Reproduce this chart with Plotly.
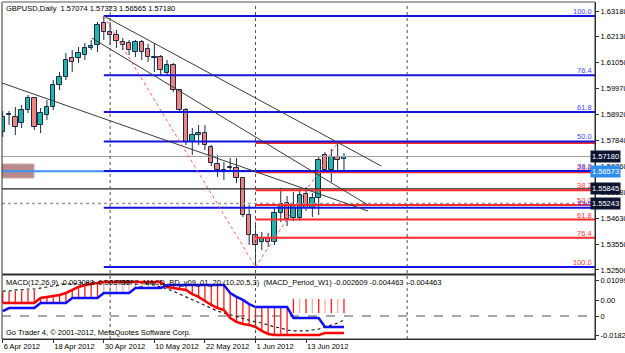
import plotly.graph_objects as go

# ---------------- data ----------------
date_labels = ["6 Apr 2012", "18 Apr 2012", "30 Apr 2012", "10 May 2012",
               "22 May 2012", "1 Jun 2012", "13 Jun 2012"]
date_pos = [0, 8, 16, 24, 32, 40, 48]

opens = [1.58190, 1.58912, 1.58809, 1.58562, 1.59098, 1.59593, 1.58479, 1.58891, 1.59221, 1.60129,
         1.60459, 1.61242, 1.61242, 1.61366, 1.61655, 1.61778, 1.62685, 1.62314, 1.62191, 1.61902,
         1.61861, 1.61490, 1.61902, 1.61613, 1.61283, 1.61283, 1.60624, 1.60953, 1.59922, 1.59098,
         1.57778, 1.58067, 1.58149, 1.57572, 1.56871, 1.56623, 1.56706, 1.56706, 1.56293, 1.54767,
         1.53943, 1.53654, 1.53819, 1.53654, 1.54850, 1.55262, 1.54644, 1.54644, 1.55633, 1.55056,
         1.55468, 1.57242, 1.56623, 1.57159, 1.57074]
highs = [1.59056, 1.59056, 1.59221, 1.59304, 1.59716, 1.59634, 1.59180, 1.59510, 1.60335, 1.60665,
         1.61448, 1.61572, 1.61696, 1.61861, 1.61984, 1.62727, 1.62974, 1.62727, 1.62397, 1.62067,
         1.61984, 1.61984, 1.61984, 1.61819, 1.61861, 1.61366, 1.61160, 1.61036, 1.59964, 1.59180,
         1.58355, 1.58479, 1.58479, 1.57654, 1.57242, 1.56953, 1.57118, 1.57118, 1.56335, 1.55180,
         1.54355, 1.54066, 1.54025, 1.55097, 1.55881, 1.55551, 1.55716, 1.55798, 1.55922, 1.55675,
         1.57159, 1.57366, 1.57489, 1.57737, 1.57323]
lows = [1.57984, 1.58479, 1.58067, 1.58355, 1.58974, 1.58273, 1.58149, 1.58685, 1.59098, 1.59922,
        1.60335, 1.60665, 1.61036, 1.61160, 1.61572, 1.61490, 1.61984, 1.61778, 1.61655, 1.61572,
        1.61366, 1.61283, 1.61160, 1.61077, 1.60665, 1.60541, 1.60500, 1.59840, 1.59015, 1.57654,
        1.57242, 1.57654, 1.57448, 1.56788, 1.56335, 1.56211, 1.56541, 1.56087, 1.54685, 1.53530,
        1.52624, 1.53324, 1.53448, 1.53530, 1.54479, 1.54314, 1.54520, 1.54520, 1.54932, 1.54685,
        1.54767, 1.56500, 1.56128, 1.56500, 1.56565]
closes = [1.58809, 1.58941, 1.58397, 1.59098, 1.59593, 1.58397, 1.58974, 1.59221, 1.60129, 1.60459,
          1.61160, 1.61077, 1.61448, 1.61655, 1.61737, 1.62603, 1.62314, 1.62191, 1.61943, 1.61778,
          1.61572, 1.61902, 1.61490, 1.61283, 1.61263, 1.60747, 1.60953, 1.59922, 1.59098, 1.57778,
          1.58067, 1.58149, 1.57654, 1.56912, 1.56623, 1.56603, 1.56747, 1.56293, 1.54767, 1.53943,
          1.53530, 1.53819, 1.53654, 1.54850, 1.55221, 1.54602, 1.55180, 1.55592, 1.55056, 1.55468,
          1.57036, 1.56623, 1.57159, 1.57036, 1.57180]

macd_red = [-0.0012, -0.0012, -0.0012, -0.0012, -0.0012, -0.0012, 0.0014, 0.0020, 0.0025, 0.0030,
            0.0041, 0.0057, 0.0073, 0.0083, 0.0089, 0.0094, 0.0099, 0.0099, 0.0099, 0.0099,
            0.0099, 0.0099, 0.0099, 0.0099, 0.0099, 0.0099, 0.0073, 0.0067, 0.0062, 0.0057,
            0.0035, 0.0020, -0.0002, -0.0023, -0.0039, -0.0050, -0.0092, -0.0113, -0.0124, -0.0129,
            -0.0140, -0.0161, -0.0177, -0.0183, -0.0183, -0.0183, -0.0183, -0.0183, -0.0183, -0.0183,
            -0.0183, -0.0172, -0.0172, -0.0172, -0.0172]
macd_blue = [-0.0055, -0.0039, -0.0039, -0.0039, -0.0039, -0.0039, -0.0012, -0.0012, -0.0012, -0.0012,
             -0.0012, 0.0014, 0.0014, 0.0014, 0.0014, 0.0014, 0.0041, 0.0041, 0.0041, 0.0041,
             0.0041, 0.0067, 0.0067, 0.0067, 0.0067, 0.0067, 0.0083, 0.0083, 0.0083, 0.0083,
             0.0083, 0.0083, 0.0083, 0.0083, 0.0083, 0.0083, 0.0041, 0.0020, 0.0004, -0.0018,
             -0.0034, -0.0034, -0.0034, -0.0034, -0.0034, -0.0034, -0.0092, -0.0092, -0.0092, -0.0092,
             -0.0092, -0.0140, -0.0140, -0.0140, -0.0140]
macd_dot = [0.0051, 0.0051, 0.0057, 0.0057, 0.0062, 0.0062, 0.0067, 0.0073, 0.0078, 0.0083,
            0.0089, 0.0089, 0.0094, 0.0094, 0.0099, 0.0099, 0.0105, 0.0105, 0.0105, 0.0105,
            0.0099, 0.0099, 0.0094, 0.0089, 0.0083, 0.0073, 0.0062, 0.0051, 0.0035, 0.0020,
            0.0004, -0.0012, -0.0028, -0.0039, -0.0055, -0.0066, -0.0076, -0.0087, -0.0097, -0.0103,
            -0.0113, -0.0119, -0.0129, -0.0140, -0.0145, -0.0156, -0.0161, -0.0161, -0.0161, -0.0156,
            -0.0151, -0.0140, -0.0129, -0.0119, -0.0103]
hist_top = [0.0046, 0.0046, 0.0051, 0.0051, 0.0057, 0.0057, 0.0014, 0.0020, 0.0025, 0.0030,
            0.0041, 0.0057, 0.0073, 0.0083, 0.0089, 0.0094, 0.0099, 0.0099, 0.0099, 0.0099,
            0.0099, 0.0099, 0.0099, 0.0099, 0.0099, 0.0099, 0.0083, 0.0083, 0.0083, 0.0083,
            0.0083, 0.0083, 0.0083, 0.0083, 0.0083, 0.0083, 0.0041, 0.0020, 0.0004, -0.0018,
            -0.0034, -0.0034, -0.0034, -0.0034, -0.0034, -0.0034, 0.0009, 0.0009, 0.0009, 0.0009,
            0.0009, 0.0009, 0.0009, 0.0009, 0.0009]
hist_bot = [-0.0012, -0.0012, -0.0012, -0.0012, -0.0012, -0.0012, -0.0012, -0.0012, -0.0012, -0.0012,
            -0.0012, 0.0014, 0.0014, 0.0014, 0.0014, 0.0014, 0.0041, 0.0041, 0.0041, 0.0041,
            0.0041, 0.0067, 0.0067, 0.0067, 0.0067, 0.0067, 0.0073, 0.0067, 0.0062, 0.0057,
            0.0035, 0.0020, -0.0002, -0.0023, -0.0039, -0.0050, -0.0092, -0.0113, -0.0124, -0.0129,
            -0.0140, -0.0161, -0.0177, -0.0183, -0.0183, -0.0183, -0.0066, -0.0066, -0.0066, -0.0066,
            -0.0066, -0.0066, -0.0066, -0.0066, -0.0066]
hist_kind = "r" * 16 + "p" * 10 + "r" * 20 + "rprprprpr"

price_ticks = [1.63180, 1.62130, 1.61050, 1.59970, 1.58920, 1.57840, 1.56760,
               1.55680, 1.54630, 1.53550, 1.52500]
macd_ticks = [0.010997, 0.0, -0.0082, -0.018273]
macd_tick_text = ["0.010997", "0.00", "0", "-0.018273"]
macd_level = -0.0082

fib_pcts = [0.0, 23.6, 38.2, 50.0, 61.8, 76.4, 100.0]
blue_fib_start, blue_fib_hi, blue_fib_lo = 16, 1.62974, 1.52624
red_fib_start, red_fib_hi, red_fib_lo = 40, 1.57737, 1.52624

bid_price = 1.57180
hlines = [1.56573, 1.55845, 1.55243]
box_prices = [1.57180, 1.56573, 1.55845, 1.55243]
box_colors = ["#0d1630", "#2d8cf0", "#0d1630", "#0d1630"]

trend_lines = [((16.0, 1.62974), (59.9, 1.56788)),
               ((14.1, 1.62067), (57.8, 1.55180)),
               ((-0.1, 1.60211), (57.8, 1.54932))]
zigzag = [(16, 1.62974), (40, 1.52624), (53, 1.57737)]
separators = [17, 40, 64]
rect_box = ((-0.5, 1.56293), (4.95, 1.56871))

header = "GBPUSD,Daily  1.57074 1.57323 1.56565 1.57180"
macd_text1 = "MACD(12,26,9) -0.003088 -0.008730"
macd_text2 = "HTF2_MACD_BD_v09_01_20 (10,20,5,3)  (MACD_Period_W1) -0.002609 -0.004463  -0.004463"
copyright_text = "Go Trader 4, \u00a9 2001-2012, MetaQuotes Software Corp."

# ---------------- geometry / style ----------------
XMIN, XMAX = -0.11, 93.72
FONT = "Liberation Sans, Arial, sans-serif"
FS = 7.5
MAIN_LO = 0.1929
MACD_HI = 0.1899

n = len(opens)
idx = list(range(n))

fig = go.Figure()

# candle wicks
wx, wy = [], []
for i in idx:
    top = max(opens[i], closes[i]); bot = min(opens[i], closes[i])
    wx += [i, i, None, i, i, None]
    wy += [highs[i], top, None, bot, lows[i], None]
fig.add_trace(go.Scatter(x=wx, y=wy, mode="lines", line=dict(color="#1c2a4a", width=1),
                         hoverinfo="skip", xaxis="x", yaxis="y"))
# candle bodies
base = [min(o, c) for o, c in zip(opens, closes)]
height = [max(abs(c - o), 0.00012) for o, c in zip(opens, closes)]
colors = ["#26b2a8" if c >= o else "#f0847c" for o, c in zip(opens, closes)]
fig.add_trace(go.Bar(x=idx, y=height, base=base, width=0.7, marker=dict(color=colors,
                     line=dict(color="#1c2a4a", width=1)), xaxis="x", yaxis="y", hoverinfo="skip"))

# MACD histogram
for kind, col in (("r", "#ff1a1a"), ("p", "#ffa8a8")):
    hx, hy = [], []
    for i in idx:
        if hist_kind[i] == kind:
            hx += [i, i, None]
            hy += [hist_bot[i], hist_top[i], None]
    fig.add_trace(go.Scatter(x=hx, y=hy, mode="lines", line=dict(color=col, width=1.3),
                             xaxis="x2", yaxis="y2", hoverinfo="skip"))
fig.add_trace(go.Scatter(x=idx, y=macd_dot, mode="lines", line=dict(color="#202020", width=1.2, dash="dot"),
                         xaxis="x2", yaxis="y2", hoverinfo="skip"))
fig.add_trace(go.Scatter(x=idx, y=macd_red, mode="lines", line=dict(color="#ff0000", width=2.5),
                         xaxis="x2", yaxis="y2", hoverinfo="skip"))
fig.add_trace(go.Scatter(x=idx, y=macd_blue, mode="lines", line=dict(color="#1010f0", width=2.5),
                         xaxis="x2", yaxis="y2", hoverinfo="skip"))

shapes = []
# rosy rectangle
shapes.append(dict(type="rect", xref="x", yref="y", x0=rect_box[0][0], y0=rect_box[0][1],
                   x1=rect_box[1][0], y1=rect_box[1][1], fillcolor="#b98a8a",
                   line=dict(color="#d0a8a8", width=1), layer="below"))
# full-width horizontal lines
shapes.append(dict(type="line", xref="x", yref="y", x0=XMIN, x1=XMAX, y0=bid_price, y1=bid_price,
                   line=dict(color="#a0a0a0", width=1), layer="above"))
hstyles = [dict(color="#3b95f5", width=2), dict(color="#202020", width=1.3),
           dict(color="#9a9a9a", width=1.5, dash="dot")]
for p, st in zip(hlines, hstyles):
    shapes.append(dict(type="line", xref="x", yref="y", x0=XMIN, x1=XMAX, y0=p, y1=p,
                       line=st, layer="above"))
# red fib
for pct in fib_pcts:
    p = red_fib_hi - pct / 100.0 * (red_fib_hi - red_fib_lo)
    shapes.append(dict(type="line", xref="x", yref="y", x0=red_fib_start, x1=XMAX, y0=p, y1=p,
                       line=dict(color="#ff2a2a", width=2), layer="above"))
# blue fib
for pct in fib_pcts:
    p = blue_fib_lo + pct / 100.0 * (blue_fib_hi - blue_fib_lo)
    shapes.append(dict(type="line", xref="x", yref="y", x0=blue_fib_start, x1=XMAX, y0=p, y1=p,
                       line=dict(color="#1414e0", width=2), layer="above"))
# trend lines
for (a, b) in trend_lines:
    shapes.append(dict(type="line", xref="x", yref="y", x0=a[0], y0=a[1], x1=b[0], y1=b[1],
                       line=dict(color="#3a3a3a", width=1), layer="above"))
# zigzag dotted
for a, b in zip(zigzag[:-1], zigzag[1:]):
    shapes.append(dict(type="line", xref="x", yref="y", x0=a[0], y0=a[1], x1=b[0], y1=b[1],
                       line=dict(color="#ff5a5a", width=1, dash="dot"), layer="above"))
# period separators
for s in separators:
    shapes.append(dict(type="line", xref="x", yref="paper", x0=s, x1=s, y0=0, y1=1,
                       line=dict(color="#505050", width=1, dash="dot"), layer="above"))
# MACD level
shapes.append(dict(type="line", xref="x2", yref="y2", x0=XMIN, x1=XMAX, y0=macd_level, y1=macd_level,
                   line=dict(color="#8a8a8a", width=1.5, dash="dash"), layer="below"))
# panel frames
shapes.append(dict(type="rect", xref="paper", yref="paper", x0=0, x1=1, y0=MAIN_LO, y1=1,
                   line=dict(color="#303030", width=1), layer="above"))
shapes.append(dict(type="line", xref="paper", yref="paper", x0=0, x1=1, y0=1, y1=1,
                   line=dict(color="#a8a8a8", width=2), layer="above"))
shapes.append(dict(type="rect", xref="paper", yref="paper", x0=0, x1=1, y0=0, y1=MACD_HI,
                   line=dict(color="#303030", width=1), layer="above"))

ann = []
tf = dict(family=FONT, size=FS, color="#000000")
ann.append(dict(xref="paper", yref="paper", x=0.0034, y=0.982, xanchor="left", yanchor="middle",
                text=header, showarrow=False, font=tf))
ann.append(dict(xref="paper", yref="paper", x=0.0034, y=0.1691, xanchor="left", yanchor="middle",
                text=macd_text1, showarrow=False, font=tf))
ann.append(dict(xref="paper", yref="paper", x=0.196, y=0.1691, xanchor="left", yanchor="middle",
                text=macd_text2, showarrow=False, font=tf))
ann.append(dict(xref="paper", yref="paper", x=0.0034, y=0.0193, xanchor="left", yanchor="middle",
                text=copyright_text, showarrow=False, font=tf))
# fib labels
for pct in fib_pcts[1:]:
    p = red_fib_hi - pct / 100.0 * (red_fib_hi - red_fib_lo)
    ann.append(dict(xref="paper", yref="y", x=1, y=p, xanchor="right", yanchor="bottom", xshift=-1,
                    yshift=-2, text=f"{pct:.1f}", showarrow=False,
                    font=dict(family=FONT, size=FS, color="#ff3838")))
for pct in fib_pcts[1:]:
    p = blue_fib_lo + pct / 100.0 * (blue_fib_hi - blue_fib_lo)
    ann.append(dict(xref="paper", yref="y", x=1, y=p, xanchor="right", yanchor="bottom", xshift=-1,
                    yshift=-2, text=f"{pct:.1f}", showarrow=False,
                    font=dict(family=FONT, size=FS, color="#4848ff")))
# price boxes
for p, c in zip(box_prices, box_colors):
    ann.append(dict(xref="paper", yref="y", x=1, y=p, xanchor="left", yanchor="middle", xshift=-5,
                    text=f"{p:.5f}", showarrow=False, bgcolor=c, borderpad=1,
                    font=dict(family=FONT, size=FS, color="#ffffff")))

axis_common = dict(showgrid=False, zeroline=False, linecolor="#303030", automargin=False)
fig.update_layout(
    width=625, height=353, margin=dict(l=2, r=30, t=2, b=14, pad=0, autoexpand=False),
    paper_bgcolor="white", plot_bgcolor="white", showlegend=False, barmode="overlay", bargap=0,
    font=dict(family=FONT, size=FS, color="black"),
    xaxis=dict(domain=[0, 1], range=[XMIN, XMAX], anchor="y", showticklabels=False, ticks="",
               **axis_common),
    yaxis=dict(domain=[MAIN_LO, 1], range=[1.52334, 1.63552], side="right", anchor="x",
               tickvals=price_ticks, ticktext=[f"{v:.5f}" for v in price_ticks], ticks="outside",
               ticklen=3, tickcolor="#303030", showline=True,
               tickfont=dict(family=FONT, size=FS, color="#000000"), **axis_common),
    xaxis2=dict(domain=[0, 1], range=[XMIN, XMAX], anchor="y2", matches="x", tickvals=date_pos,
                ticktext=date_labels, ticks="outside", ticklen=3, tickcolor="#303030",
                ticklabelposition="outside right", tickangle=0,
                tickfont=dict(family=FONT, size=FS, color="#000000"), **axis_common),
    yaxis2=dict(domain=[0, MACD_HI], range=[-0.020391, 0.013657], side="right", anchor="x2",
                tickvals=macd_ticks, ticktext=macd_tick_text, ticks="outside", ticklen=3,
                tickcolor="#303030", showline=True,
                tickfont=dict(family=FONT, size=FS, color="#000000"), **axis_common),
    shapes=shapes, annotations=ann,
)

fig.write_html("out.html")
